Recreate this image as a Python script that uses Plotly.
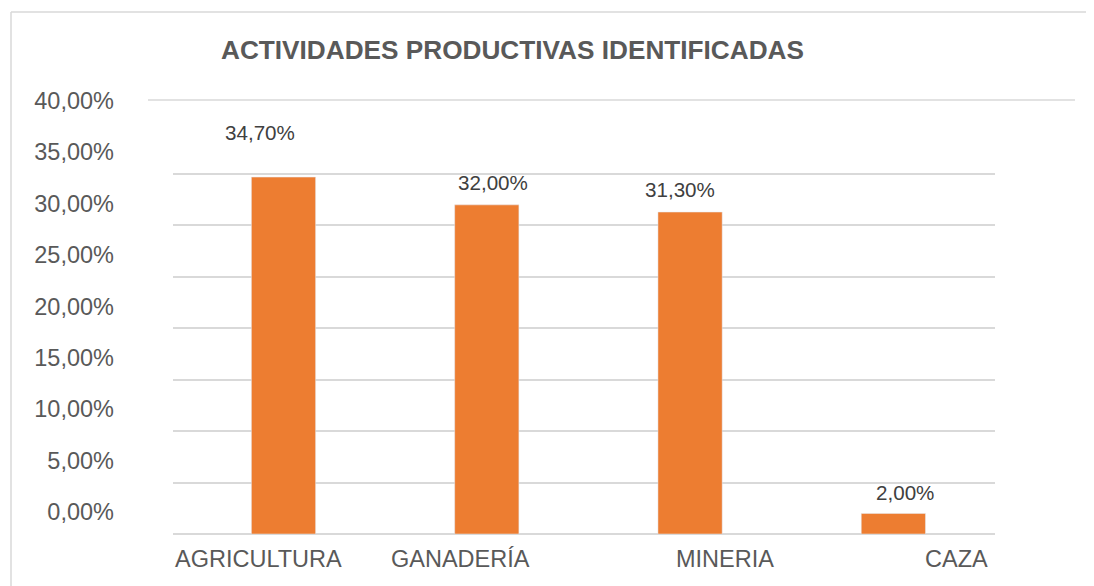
import plotly.graph_objects as go

categories = ["AGRICULTURA", "GANADERÍA", "MINERIA", "CAZA"]
values = [34.70, 32.00, 31.30, 2.00]
value_labels = ["34,70%", "32,00%", "31,30%", "2,00%"]
tick_values = [0, 5, 10, 15, 20, 25, 30, 35, 40]
tick_labels = ["0,00%", "5,00%", "10,00%", "15,00%", "20,00%", "25,00%",
               "30,00%", "35,00%", "40,00%"]
grid_values = [0, 5, 10, 15, 20, 25, 30, 35]

# style offsets (pixels) for labels, matching the reference's placement
cat_label_dx = [-25, -26, 35, 63]
val_label_dx = [-24, 6, -10, 12]
val_label_dy = [45, 22, 23, 21]

# page body margin compensation
OX, OY = 8, 8
W, H = 1094, 586
ML, MR, MT, MB = 173 - OX, 99 + OX, 100 - OY, 52 + OY
plot_w = W - ML - MR
plot_h = H - MT - MB
y_max = 35 * plot_h / 360.0
label_shift = 22 * y_max / plot_h

FONT = "Liberation Sans, Arial, sans-serif"
GRAY = "#595959"


def px_x(x):
    return (x - OX - ML) / plot_w


def px_y(y):
    return (H - MB - (y - OY)) / plot_h


fig = go.Figure()
fig.add_trace(go.Bar(
    x=categories, y=values, marker_color="#ED7D31", width=0.316,
    hoverinfo="skip", showlegend=False,
))
# invisible trace for the label axis
fig.add_trace(go.Scatter(x=categories, y=values, yaxis="y2", mode="none",
                         showlegend=False, hoverinfo="skip"))

annotations = []
for i, c in enumerate(categories):
    annotations.append(dict(
        x=c, y=0, xref="x", yref="y", text=c, showarrow=False,
        yanchor="middle", xanchor="center", xshift=cat_label_dx[i], yshift=-25,
        font=dict(family=FONT, size=23.5, color=GRAY)))
    annotations.append(dict(
        x=c, y=values[i], xref="x", yref="y", text=value_labels[i], showarrow=False,
        yanchor="middle", xanchor="center", xshift=val_label_dx[i], yshift=val_label_dy[i],
        font=dict(family=FONT, size=20.6, color="#404040")))

fig.update_layout(
    width=W, height=H,
    margin=dict(l=ML, r=MR, t=MT, b=MB),
    paper_bgcolor="white", plot_bgcolor="white",
    title=dict(text="<b>ACTIVIDADES PRODUCTIVAS IDENTIFICADAS</b>",
               x=((221 + 804) / 2 - OX) / W, xanchor="center",
               y=1 - (50 - OY) / H, yanchor="middle",
               font=dict(family=FONT, size=26.2, color=GRAY)),
    xaxis=dict(showticklabels=False, showgrid=False, zeroline=False, showline=False,
               ticks=""),
    yaxis=dict(range=[0, y_max], tickvals=grid_values, showticklabels=False,
               showgrid=True, gridcolor="#D9D9D9", gridwidth=1.5,
               zeroline=True, zerolinecolor="#D9D9D9", zerolinewidth=1.5,
               showline=False, ticks=""),
    yaxis2=dict(range=[-label_shift, y_max - label_shift], overlaying="y", side="left",
                tickvals=tick_values, ticktext=tick_labels, showgrid=False,
                zeroline=False, showline=False, ticks="", ticklabelstandoff=58,
                tickfont=dict(family=FONT, size=23.5, color=GRAY)),
    annotations=annotations,
    shapes=[
        # top line of plot area (wider than grid)
        dict(type="line", xref="paper", yref="paper",
             x0=px_x(148), x1=px_x(1075), y0=1, y1=1,
             line=dict(color="#D9D9D9", width=1.5)),
        # chart border (left and top)
        dict(type="line", xref="paper", yref="paper",
             x0=px_x(11), x1=px_x(11), y0=px_y(12), y1=px_y(600),
             line=dict(color="#D9D9D9", width=1.5)),
        dict(type="line", xref="paper", yref="paper",
             x0=px_x(11), x1=px_x(1110), y0=px_y(12), y1=px_y(12),
             line=dict(color="#D9D9D9", width=1.5)),
    ],
)

fig.write_html("out.html")
